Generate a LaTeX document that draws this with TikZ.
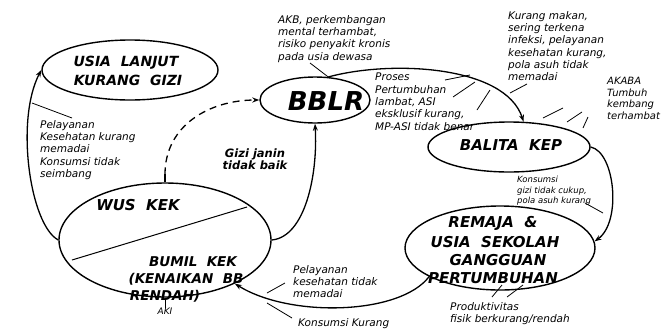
\documentclass[tikz,border=0pt]{standalone}
\usepackage{fontspec}
\setmainfont{DejaVu Sans}
\usetikzlibrary{arrows.meta,shapes.geometric}
\tikzset{
 ell/.style={draw, ellipse, line width=1.4pt, inner sep=0pt},
 hd/.style={font=\fontsize{14}{16}\selectfont\bfseries\itshape, inner sep=0pt},
 hdb/.style={font=\fontsize{15}{16}\selectfont\bfseries\itshape, inner sep=0pt},
 hdc/.style={font=\fontsize{13.5}{15}\selectfont\bfseries\itshape, inner sep=0pt},
 ann/.style={font=\fontsize{10.5}{12.3}\selectfont\itshape, align=left, anchor=north west, inner sep=0pt},
 anns/.style={font=\fontsize{8.5}{10.5}\selectfont\itshape, align=left, anchor=north west, inner sep=0pt},
 conn/.style={line width=1.3pt, -{Stealth[length=7pt,width=5pt]}},
 tick/.style={line width=0.8pt},
}
\begin{document}
\begin{tikzpicture}[x=1pt,y=-1pt]
\useasboundingbox[fill=white] (0,0) rectangle (662,330);
% ellipses
\node[ell, minimum width=176, minimum height=60] (usia) at (130,70) {};
\node[ell, minimum width=110, minimum height=46] (bblr) at (315,100) {};
\node[ell, minimum width=162, minimum height=50] (balita) at (509,147) {};
\node[ell, minimum width=190, minimum height=84] (remaja) at (500,248) {};
\node[ell, minimum width=212, minimum height=114] (wus) at (165,240) {};
% divider
\draw[line width=1pt] (72,260) -- (247,207);
% texts in ellipses
\node[hd] (t1) at (126,63) {USIA\ \ LANJUT};
\node[hd] (t2) at (128,80) {KURANG\ \ GIZI};
\node[font=\fontsize{26}{28}\selectfont\bfseries\itshape, inner sep=0pt] (tb) at (326,101) {BBLR};
\node[hdb] (tc) at (511,145) {BALITA\ \ KEP};
\node[hdb] (r1) at (493,223) {REMAJA\ \ \&};
\node[hdb] (r2) at (495,242) {USIA\ \ SEKOLAH};
\node[hdb] (r3) at (498,260) {GANGGUAN};
\node[hdb] (r4) at (493,278) {PERTUMBUHAN};
\node[hdb] (w1) at (138,205) {WUS\ \ KEK};
\node[hdc] (w2) at (193,262) {BUMIL\ \ KEK};
\node[hdc] (w3) at (186,279) {(KENAIKAN\ \ BB};
\node[hdc] (w4) at (165,296) {RENDAH)};
% connectors
\draw[line width=1.3pt] (wus.north) -- ++(0,-8) coordinate (dstart);
\draw[conn, dash pattern=on 7pt off 5pt] (dstart) .. controls (165,125) and (210,100) .. (bblr.west);
\draw[conn] (wus.west) .. controls (30,225) and (15,120) .. (usia.west);
\draw[conn] (wus.east) .. controls (305,237) and (318,175) .. (bblr.south);
\draw[conn] (bblr.60) .. controls (390,60) and (505,65) .. (balita.60);
\draw[conn] (balita.east) .. controls (615,152) and (622,222) .. (remaja.4);
\draw[conn] (remaja.202) .. controls (400,315) and (290,318) .. (wus.328);
\draw[line width=1pt] (wus.south) -- ++(0,10) coordinate (akitick);
% labels
\node[font=\fontsize{11.5}{12.5}\selectfont\bfseries\itshape, align=center, inner sep=0pt] (gz) at (255,159) {Gizi janin\\tidak baik};
\node[ann] (a1) at (40,120) {Pelayanan\\Kesehatan kurang\\memadai\\Konsumsi tidak\\seimbang};
\node[ann] (a2) at (278,15) {AKB, perkembangan\\mental terhambat,\\risiko penyakit kronis\\pada usia dewasa};
\node[ann] (a3) at (375,73) {Proses\\Pertumbuhan\\lambat, ASI\\eksklusif kurang,\\MP-ASI tidak benar};
\node[ann] (a4) at (508,11) {Kurang makan,\\sering terkena\\infeksi, pelayanan\\kesehatan kurang,\\pola asuh tidak\\memadai};
\node[ann, font=\fontsize{10}{11.7}\selectfont\itshape] (a5) at (607,77) {AKABA\\Tumbuh\\kembang\\terhambat};
\node[anns] (a6) at (517,176) {Konsumsi\\gizi tidak cukup,\\pola asuh kurang};
\node[ann] (a7) at (293,265) {Pelayanan\\kesehatan tidak\\memadai};
\node[ann] (a8) at (298,318) {Konsumsi Kurang};
\node[ann] (a9) at (450,302) {Produktivitas\\fisik berkurang/rendah};
\node[font=\fontsize{9}{10}\selectfont\itshape, inner sep=0pt, anchor=north] (aki) at (akitick) {AKI};
% leader ticks
\draw[tick] (32,103) -- (72,118);
\draw[tick] (310,63) -- (bblr.60);
\draw[tick] (445,80) -- (470,75);
\draw[tick] (453,97) -- (475,82);
\draw[tick] (477,110) -- (490,90);
\draw[tick] (510,93) -- (527,84);
\draw[tick] (543,118) -- (563,108);
\draw[tick] (567,122) -- (582,112);
\draw[tick] (583,128) -- (588,117);
\draw[tick] (585,203) -- (603,213);
\draw[tick] (267,293) -- (285,283);
\draw[tick] (267,303) -- (292,318);
\draw[tick] (492,297) -- (502,285);
\draw[tick] (507,297) -- (523,285);
\end{tikzpicture}
\end{document}
